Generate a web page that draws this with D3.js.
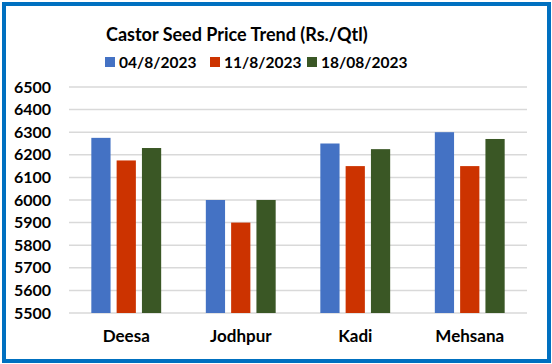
<!DOCTYPE html>
<html>
<head>
<meta charset="utf-8">
<script src="https://cdn.jsdelivr.net/npm/d3@7"></script>
<style>
  body { margin: 0; background: #fff; }
  text { font-family: Lato, "Open Sans", sans-serif; font-weight: bold; fill: #000; }
</style>
</head>
<body>
<script>
// data
const cities = ['Deesa', 'Jodhpur', 'Kadi', 'Mehsana'];
const dates = ['04/8/2023', '11/8/2023', '18/08/2023'];
const week1 = [6275, 6000, 6250, 6300];
const week2 = [6175, 5900, 6150, 6150];
const week3 = [6230, 6000, 6225, 6270];
const yTicks = [5500, 5600, 5700, 5800, 5900, 6000, 6100, 6200, 6300, 6400, 6500];
const colors = ['#4472C4', '#CC3300', '#3A5725'];

const series = [week1, week2, week3];

const width = 552, height = 364;
const margin = { top: 87, right: 25, bottom: 51, left: 69 };

const svg = d3.select('body')
  .append('svg')
  .attr('width', width)
  .attr('height', height);

// blue frame
svg.append('rect')
  .attr('x', 4).attr('y', 4)
  .attr('width', 545).attr('height', 357)
  .attr('fill', '#fff')
  .attr('stroke', '#0070C0')
  .attr('stroke-width', 4);

const x0 = d3.scaleBand()
  .domain(cities)
  .range([margin.left, width - margin.right])
  .paddingInner(0.39)
  .paddingOuter(0.195);

const x1 = d3.scaleBand()
  .domain(d3.range(series.length))
  .range([0, x0.bandwidth()])
  .paddingInner(0.24);

const y = d3.scaleLinear()
  .domain([5500, 6500])
  .range([height - margin.bottom, margin.top]);

// gridlines
svg.append('g')
  .selectAll('line')
  .data(yTicks)
  .join('line')
  .attr('x1', margin.left)
  .attr('x2', width - margin.right)
  .attr('y1', d => y(d))
  .attr('y2', d => y(d))
  .attr('stroke', '#d9d9d9')
  .attr('stroke-width', 1.5);

// y labels
const yAxis = svg.append('g')
  .attr('transform', `translate(51,0)`)
  .call(d3.axisLeft(y).tickValues(yTicks).tickFormat(d3.format('d')).tickSize(0).tickPadding(0));
yAxis.select('.domain').remove();
yAxis.selectAll('text')
  .style('font-family', 'Lato, sans-serif')
  .style('font-weight', 'bold')
  .style('font-size', '16px');

// bars
const groups = svg.append('g')
  .selectAll('g')
  .data(cities)
  .join('g')
  .attr('transform', d => `translate(${x0(d)},0)`);

groups.selectAll('rect')
  .data((c, ci) => series.map((s, si) => ({ si, v: s[ci] })))
  .join('rect')
  .attr('x', d => x1(d.si))
  .attr('width', x1.bandwidth())
  .attr('y', d => y(d.v))
  .attr('height', d => y(5500) - y(d.v))
  .attr('fill', d => colors[d.si]);

// category labels
const xAxis = svg.append('g')
  .attr('transform', `translate(0,${height - margin.bottom})`)
  .call(d3.axisBottom(x0).tickSize(0).tickPadding(17));
xAxis.select('.domain').remove();
xAxis.selectAll('text')
  .style('font-family', 'Lato, sans-serif')
  .style('font-weight', 'bold')
  .style('font-size', '17px');

// title
svg.append('text')
  .attr('x', 106)
  .attr('y', 41)
  .style('font-size', '18px')
  .text('Castor Seed Price Trend (Rs./Qtl)');

// legend
const legendX = [105, 210, 307];
const legend = svg.append('g')
  .selectAll('g')
  .data(dates)
  .join('g')
  .attr('transform', (d, i) => `translate(${legendX[i]},57)`);

legend.append('rect')
  .attr('width', 10)
  .attr('height', 10)
  .attr('fill', (d, i) => colors[i]);

legend.append('text')
  .attr('x', 14)
  .attr('y', 11)
  .style('font-size', '15.5px')
  .text(d => d);
</script>
</body>
</html>
